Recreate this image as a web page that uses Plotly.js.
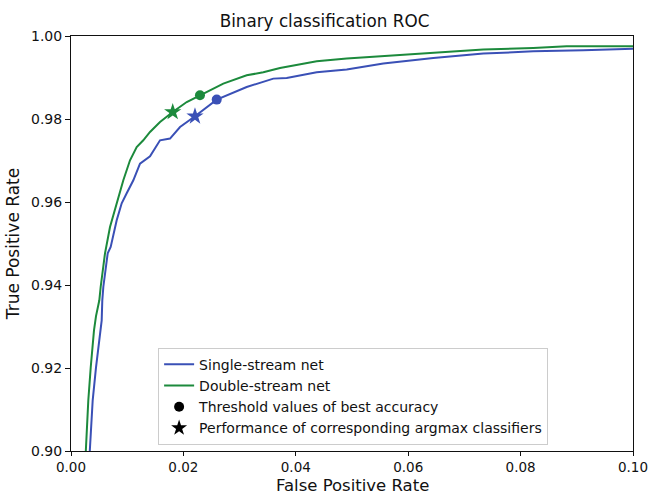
<!DOCTYPE html>
<html>
<head>
<meta charset="utf-8">
<script src="https://cdn.plot.ly/plotly-3.0.1.min.js"></script>
<style>html,body{margin:0;padding:0;background:#fff;}#chart{width:649px;height:495px;}</style>
</head>
<body>
<div id="chart"></div>
<script>
// Single-stream net ROC (false positive rate, true positive rate)
const singleFPR = [0.00330, 0.00386, 0.00445, 0.00504, 0.00546, 0.00557, 0.00575, 0.00653, 0.00706, 0.00813, 0.00902, 0.00991, 0.01109, 0.01228, 0.01406, 0.01584, 0.01762, 0.01940, 0.02206, 0.02593, 0.03126, 0.03600, 0.03838, 0.04372, 0.04906, 0.05557, 0.06447, 0.07336, 0.08226, 0.09116, 0.10000];
const singleTPR = [0.8990, 0.91222, 0.92017, 0.92667, 0.93149, 0.93631, 0.93952, 0.94764, 0.94916, 0.95559, 0.95969, 0.96210, 0.96523, 0.96925, 0.97100, 0.97487, 0.97528, 0.97807, 0.98065, 0.98467, 0.98771, 0.98973, 0.98988, 0.99125, 0.99190, 0.99335, 0.99470, 0.99576, 0.99631, 0.99655, 0.99690];
// Double-stream net ROC
const doubleFPR = [0.00260, 0.00308, 0.00351, 0.00386, 0.00409, 0.00445, 0.00504, 0.00528, 0.00605, 0.00694, 0.00813, 0.00931, 0.01050, 0.01169, 0.01286, 0.01406, 0.01584, 0.01810, 0.02059, 0.02295, 0.02710, 0.03126, 0.03422, 0.03719, 0.04372, 0.04906, 0.05557, 0.06447, 0.07336, 0.08226, 0.08820, 0.10000];
const doubleTPR = [0.8990, 0.91222, 0.92017, 0.92667, 0.92908, 0.93250, 0.93631, 0.93952, 0.94764, 0.95398, 0.95961, 0.96523, 0.97005, 0.97325, 0.97487, 0.97687, 0.97928, 0.98169, 0.98410, 0.98571, 0.98853, 0.99053, 0.99125, 0.99229, 0.99390, 0.99455, 0.99511, 0.99590, 0.99672, 0.99711, 0.99752, 0.99752];
// Best-accuracy thresholds (dots) and argmax classifiers (stars)
const bestSingle = {fpr: [0.02593], tpr: [0.98467]};
const bestDouble = {fpr: [0.02295], tpr: [0.98571]};
const argmaxSingle = {fpr: [0.02206], tpr: [0.98065]};
const argmaxDouble = {fpr: [0.01810], tpr: [0.98169]};
const xTicks = [0, 0.02, 0.04, 0.06, 0.08, 0.10];
const xTickText = ["0.00", "0.02", "0.04", "0.06", "0.08", "0.10"];
const yTicks = [0.90, 0.92, 0.94, 0.96, 0.98, 1.00];
const yTickText = ["0.90", "0.92", "0.94", "0.96", "0.98", "1.00"];
const seriesNames = ["Single-stream net", "Double-stream net", "Threshold values of best accuracy", "Performance of corresponding argmax classifiers"];
const xTitle = "False Positive Rate";
const yTitle = "True Positive Rate";

const BLUE = "#3a50b6";
const GREEN = "#1c8a3c";

const traces = [
  {x: singleFPR, y: singleTPR, mode: "lines", name: seriesNames[0], line: {color: BLUE, width: 2}},
  {x: doubleFPR, y: doubleTPR, mode: "lines", name: seriesNames[1], line: {color: GREEN, width: 2}},
  {x: [null], y: [null], mode: "markers", name: seriesNames[2], marker: {symbol: "circle", color: "black", size: 10}},
  {x: [null], y: [null], mode: "markers", name: seriesNames[3], marker: {symbol: "star", color: "black", size: 12}},
  {x: bestSingle.fpr, y: bestSingle.tpr, mode: "markers", showlegend: false, marker: {symbol: "circle", color: BLUE, size: 10}},
  {x: bestDouble.fpr, y: bestDouble.tpr, mode: "markers", showlegend: false, marker: {symbol: "circle", color: GREEN, size: 10}},
  {x: argmaxSingle.fpr, y: argmaxSingle.tpr, mode: "markers", showlegend: false, marker: {symbol: "star", color: BLUE, size: 13}},
  {x: argmaxDouble.fpr, y: argmaxDouble.tpr, mode: "markers", showlegend: false, marker: {symbol: "star", color: GREEN, size: 13}}
];

const layout = {
  width: 649, height: 495,
  margin: {l: 71, r: 16, t: 36, b: 44},
  paper_bgcolor: "#fff", plot_bgcolor: "#fff",
  font: {family: "DejaVu Sans, sans-serif", color: "#111", size: 14},
  title: {text: "Binary classification ROC", font: {size: 16.8, color: "#111"}, x: 0.5, xanchor: "center", y: 0.957, yanchor: "middle"},
  showlegend: true,
  legend: {x: 0.155, y: 0.015, xanchor: "left", yanchor: "bottom", bgcolor: "rgba(255,255,255,0.85)", bordercolor: "#cccccc", borderwidth: 1, font: {size: 14, color: "#111"}, itemwidth: 30, tracegroupgap: 0},
  xaxis: {
    range: [0, 0.1], tickvals: xTicks, ticktext: xTickText,
    showgrid: false, zeroline: false, showline: true, linecolor: "#111", linewidth: 1, mirror: true,
    ticks: "outside", ticklen: 4, tickcolor: "#111", tickfont: {size: 13.5}
  },
  yaxis: {
    range: [0.9, 1.0], tickvals: yTicks, ticktext: yTickText,
    showgrid: false, zeroline: false, showline: true, linecolor: "#111", linewidth: 1, mirror: true,
    ticks: "outside", ticklen: 5, tickcolor: "#111", tickfont: {size: 14},
    title: {text: yTitle, font: {size: 17}, standoff: 7}
  },
  annotations: [
    {text: xTitle, xref: "paper", yref: "paper", x: 0.5, y: -0.083, xanchor: "center", yanchor: "middle", showarrow: false, borderpad: 0, font: {size: 16.5, color: "#111"}}
  ]
};

Plotly.newPlot("chart", traces, layout, {displayModeBar: false, staticPlot: true});
</script>
</body>
</html>
